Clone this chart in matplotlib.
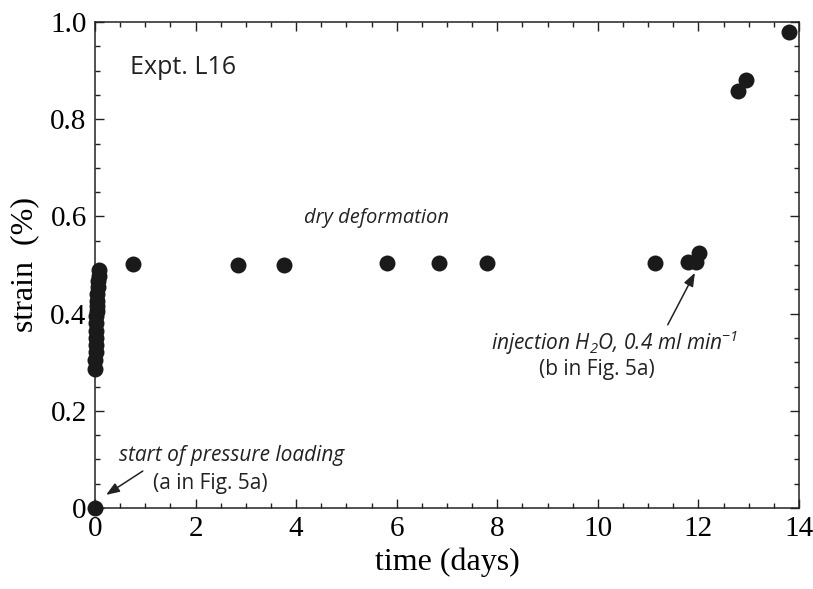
import matplotlib
matplotlib.use("Agg")
import matplotlib.pyplot as plt
from matplotlib.ticker import MultipleLocator, FixedLocator, FixedFormatter

plt.rcParams['mathtext.fontset'] = 'custom'
plt.rcParams['mathtext.rm'] = 'Open Sans:italic'
plt.rcParams['mathtext.it'] = 'Open Sans:italic'
plt.rcParams['mathtext.default'] = 'it'

# ---- data ----
time_days = [0.0,
             0.0, 0.0, 0.01, 0.01, 0.01, 0.02, 0.02, 0.02, 0.03, 0.03, 0.04, 0.04, 0.05, 0.06, 0.07, 0.08,
             0.75, 2.85, 3.75, 5.8, 6.85, 7.8, 11.13, 11.8, 11.95, 12.02,
             12.78, 12.94, 13.8]
strain_pct = [0.0,
              0.285, 0.305, 0.32, 0.335, 0.35, 0.365, 0.38, 0.395, 0.405, 0.415, 0.425, 0.44, 0.455, 0.467, 0.478, 0.49,
              0.503, 0.499, 0.501, 0.505, 0.505, 0.505, 0.505, 0.506, 0.506, 0.524,
              0.858, 0.881, 0.979]

xticks = [0, 2, 4, 6, 8, 10, 12, 14]
xtick_labels = ["0", "2", "4", "6", "8", "10", "12", "14"]
yticks = [0.0, 0.2, 0.4, 0.6, 0.8, 1.0]
ytick_labels = ["0", "0.2", "0.4", "0.6", "0.8", "1.0"]

SERIF = ["Liberation Serif", "DejaVu Serif"]
SANS = ["Open Sans", "DejaVu Sans"]

fig = plt.figure(figsize=(8.13, 5.89), dpi=100)
ax = fig.add_axes([95/813, 1-508/589, (799-95)/813, (508-22)/589])

ax.plot(time_days, strain_pct, 'o', color='#1a1a1a', markersize=11.5,
        markeredgewidth=0, clip_on=False, zorder=5)

ax.set_xlim(0, 14)
ax.set_ylim(0, 1.0)
ax.xaxis.set_major_locator(FixedLocator(xticks))
ax.xaxis.set_major_formatter(FixedFormatter(xtick_labels))
ax.yaxis.set_major_locator(FixedLocator(yticks))
ax.yaxis.set_major_formatter(FixedFormatter(ytick_labels))
ax.xaxis.set_minor_locator(MultipleLocator(0.5))
ax.yaxis.set_minor_locator(MultipleLocator(0.05))
ax.tick_params(which='both', direction='in', top=True, right=True, width=1.0, color='#222222')
ax.tick_params(which='major', length=6.5, labelsize=21, pad=6)
ax.tick_params(which='minor', length=3.5)
for lab in ax.get_xticklabels() + ax.get_yticklabels():
    lab.set_family(SERIF)
for s in ax.spines.values():
    s.set_linewidth(1.1)
    s.set_color('#222222')

ax.set_xlabel("time (days)", family=SERIF, fontsize=23, labelpad=4)
ax.set_ylabel("strain  (%)", family=SERIF, fontsize=23, labelpad=8)

TXT = '#222222'
ax.text(0.70, 0.907, "Expt. L16", family=SANS, fontsize=18, ha='left', va='center', color=TXT)
ax.text(5.6, 0.597, "dry deformation", family=SANS, fontsize=14.5, style='italic', ha='center', va='center', color=TXT)
ax.text(10.34, 0.34, r"injection H$_2$O, 0.4 ml min$^{-1}$", family=SANS, fontsize=15, style='italic',
        ha='center', va='center', color=TXT)
ax.text(9.98, 0.284, "(b in Fig. 5a)", family=SANS, fontsize=15, ha='center', va='center', color=TXT)
ax.text(2.72, 0.109, "start of pressure loading", family=SANS, fontsize=15, style='italic',
        ha='center', va='center', color=TXT)
ax.text(2.29, 0.051, "(a in Fig. 5a)", family=SANS, fontsize=15, ha='center', va='center', color=TXT)

arrow = dict(arrowstyle='-|>,head_length=0.8,head_width=0.3', color=TXT, lw=1.1, shrinkA=0, shrinkB=0)
ax.annotate("", xy=(11.93, 0.484), xytext=(11.39, 0.377), arrowprops=arrow)
ax.annotate("", xy=(0.22, 0.027), xytext=(0.95, 0.076), arrowprops=arrow)

fig.savefig("out.png", dpi=100)
